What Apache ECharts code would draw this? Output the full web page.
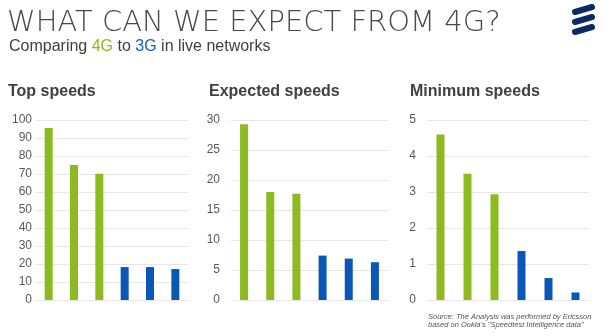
<!DOCTYPE html>
<html>
<head>
<meta charset="utf-8">
<script src="https://cdn.jsdelivr.net/npm/echarts@6/dist/echarts.min.js"></script>
<style>
html,body{margin:0;padding:0;background:#fff;}
#chart{width:615px;height:336px;}
</style>
</head>
<body>
<div id="chart"></div>
<script>
// Data
var categories = ["4G #1", "4G #2", "4G #3", "3G #1", "3G #2", "3G #3"];
var network = ["4G", "4G", "4G", "3G", "3G", "3G"];
var panelTitles = ["Top speeds", "Expected speeds", "Minimum speeds"];
var topSpeeds = [95.5, 75, 70.2, 18.3, 18.3, 17.2];
var expectedSpeeds = [29.3, 18.0, 17.7, 7.4, 6.9, 6.3];
var minimumSpeeds = [4.6, 3.51, 2.94, 1.36, 0.61, 0.21];
var yMax = [100, 30, 5];
var yInterval = [10, 5, 1];

var GREEN = '#8dba1f';
var BLUE = '#0a57b5';
var colors = { "4G": GREEN, "3G": BLUE };

var grids = [
  { left: 36, top: 120, width: 152, height: 180 },
  { left: 231, top: 120, width: 157, height: 180 },
  { left: 427, top: 120, width: 162, height: 180 }
];
var labelMargins = [4, 11, 11];
var allData = [topSpeeds, expectedSpeeds, minimumSpeeds];

var chart = echarts.init(document.getElementById('chart'));

var xAxes = [], yAxes = [], series = [], titles = [];
for (var i = 0; i < 3; i++) {
  xAxes.push({
    type: 'category', gridIndex: i, data: categories,
    axisLine: { show: false }, axisTick: { show: false }, axisLabel: { show: false }
  });
  yAxes.push({
    type: 'value', gridIndex: i, min: 0, max: yMax[i], interval: yInterval[i],
    axisLine: { show: false }, axisTick: { show: false },
    axisLabel: { color: '#595959', fontSize: 12, fontFamily: 'Liberation Sans, Arial', margin: labelMargins[i] },
    splitLine: { lineStyle: { color: '#e6e6e6', width: 1 } }
  });
  series.push({
    type: 'bar', xAxisIndex: i, yAxisIndex: i, barWidth: 8,
    data: allData[i].map(function (v, k) {
      return { value: v, itemStyle: { color: colors[network[k]] } };
    }),
    silent: true
  });
}

titles.push({
  text: 'WHAT CAN WE EXPECT FROM 4G?', left: 7, top: 9, padding: 0,
  textStyle: { fontFamily: 'DejaVu Sans', fontWeight: 200, fontSize: 29, color: '#4a4a4a' }
});
titles.push({
  text: 'Comparing {g|4G} to {b|3G} in live networks', left: 9, top: 39, padding: 0,
  textStyle: {
    fontFamily: 'Liberation Sans, Arial', fontWeight: 'normal', fontSize: 16, color: '#404040',
    rich: {
      g: { color: GREEN, fontSize: 16, fontFamily: 'Liberation Sans, Arial' },
      b: { color: '#1660b8', fontSize: 16, fontFamily: 'Liberation Sans, Arial' }
    }
  }
});
var titleX = [8, 209, 410];
for (var j = 0; j < 3; j++) {
  titles.push({
    text: panelTitles[j], left: titleX[j], top: 84, padding: 0,
    textStyle: { fontFamily: 'Liberation Sans, Arial', fontWeight: 'bold', fontSize: 16, color: '#404040' }
  });
}

chart.setOption({
  animation: false,
  backgroundColor: '#ffffff',
  title: titles,
  grid: grids,
  xAxis: xAxes,
  yAxis: yAxes,
  series: series,
  graphic: [
    { type: 'line', shape: { x1: 575, y1: 12, x2: 592, y2: 7 }, style: { stroke: '#0a2a66', lineWidth: 6, lineCap: 'round' } },
    { type: 'line', shape: { x1: 575, y1: 22, x2: 592, y2: 17 }, style: { stroke: '#0a2a66', lineWidth: 6, lineCap: 'round' } },
    { type: 'line', shape: { x1: 575, y1: 32, x2: 592, y2: 27 }, style: { stroke: '#0a2a66', lineWidth: 6, lineCap: 'round' } },
    { type: 'text', left: 428, top: 313, style: { text: 'Source: The Analysis was performed by Ericsson\nbased on Ookla\'s "Speedtest Intelligence data"', font: 'italic 7.5px "Liberation Sans", Arial', fill: '#555', lineHeight: 8 } }
  ]
});
</script>
</body>
</html>
